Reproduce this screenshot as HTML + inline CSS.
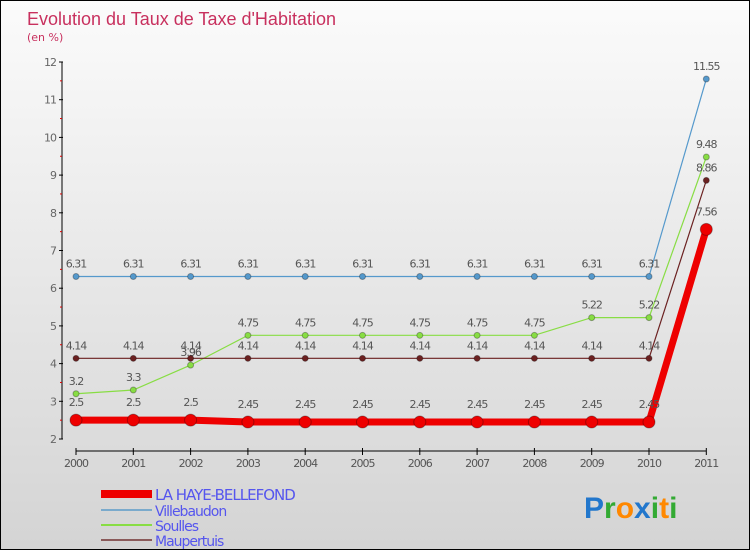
<!DOCTYPE html>
<html><head><meta charset="utf-8"><style>
body{margin:0}
#c{position:relative;width:748px;height:548px;border:1px solid #000;background:linear-gradient(#fbfbfb,#d4d4d4);overflow:hidden;font-family:"DejaVu Sans","Liberation Sans",sans-serif}
</style></head><body>
<div id="c">
<svg id="s" width="748" height="548"></svg>
</div>
<script>
const years=[2000,2001,2002,2003,2004,2005,2006,2007,2008,2009,2010,2011];
const laHaye=[2.5,2.5,2.5,2.45,2.45,2.45,2.45,2.45,2.45,2.45,2.45,7.56];
const villebaudon=[6.31,6.31,6.31,6.31,6.31,6.31,6.31,6.31,6.31,6.31,6.31,11.55];
const soulles=[3.2,3.3,3.96,4.75,4.75,4.75,4.75,4.75,4.75,5.22,5.22,9.48];
const maupertuis=[4.14,4.14,4.14,4.14,4.14,4.14,4.14,4.14,4.14,4.14,4.14,8.86];
const yTicks=[2,3,4,5,6,7,8,9,10,11,12];
const NS='http://www.w3.org/2000/svg';
const s=document.getElementById('s');
const X=i=>75+i*57.3, Y=v=>438-(v-2)*37.7;
function el(t,a,p){const e=document.createElementNS(NS,t);for(const k in a)e.setAttribute(k,a[k]);(p||s).appendChild(e);return e;}
function tx(x,y,str,a){const e=el('text',Object.assign({x:x,y:y},a));e.textContent=str;return e;}
let t=tx(26,24,"Evolution du Taux de Taxe d'Habitation",{fill:'#c8305e','font-size':18,'font-family':'Liberation Sans,sans-serif'});

t=tx(26,40,"(en %)",{fill:'#c8305e','font-size':11});

let a=el('line',{x1:61,y1:Y(12),x2:61,y2:Y(2),stroke:'#000','stroke-width':1});

yTicks.forEach(v=>{el('line',{x1:58,x2:62,y1:Y(v),y2:Y(v),stroke:'#000'});
 if(v<12)el('line',{x1:59,x2:61,y1:Y(v+0.5),y2:Y(v+0.5),stroke:'#d00'});
 const l=tx(55,Y(v)+4,v,{fill:'#666','font-size':11,'text-anchor':'end','letter-spacing':-1});
 });
a=el('line',{x1:X(0),x2:X(11),y1:450,y2:450,stroke:'#000'});

years.forEach((y,i)=>{el('line',{x1:X(i),x2:X(i),y1:447,y2:454,stroke:'#000'});
 const l=tx(X(i),466,y,{fill:'#555','font-size':11,'text-anchor':'middle','letter-spacing':-1});
 });
function series(d,color,w,r,name,lab){
 const g=el('g',{});
 el('polyline',{points:d.map((v,i)=>X(i)+','+Y(v)).join(' '),fill:'none',stroke:color,'stroke-width':w},g);
 d.forEach((v,i)=>{const c=el('circle',{cx:X(i),cy:Y(v),r:r,fill:color,stroke:'rgba(0,0,0,0.3)'},g);
  
  tx(X(i),Y(v)-lab,v,{fill:'#555','font-size':11,'text-anchor':'middle','letter-spacing':-1},g);});
}
series(villebaudon,'#5599cc',1.2,3,'villebaudon-series',9);
series(soulles,'#88dd44',1.2,3,'soulles-series',9);
series(maupertuis,'#6b2121',1.2,3,'maupertuis-series',9);
series(laHaye,'#ee0000',7,6,'la-haye-bellefond-series',14);
const leg=[['LA HAYE-BELLEFOND','#ee0000',8,493,15],['Villebaudon','#7aaacc',2,509,14],['Soulles','#88dd44',2,524,14],['Maupertuis','#8a5a5a',2,539,14]];
leg.forEach(l=>{const g=el('g',{});
 el('line',{x1:100,x2:151,y1:l[3],y2:l[3],stroke:l[1],'stroke-width':l[2]},g);
 tx(154,l[3]+6,l[0],{fill:'#5555ee','font-size':l[4],'letter-spacing':-1},g);});
const lg=el('text',{x:583,y:517,'font-size':30,'font-weight':'bold','font-family':'Liberation Sans,sans-serif'});

[['P','#2277cc'],['r','#33aa33'],['o','#ff8800'],['x','#2277cc'],['i','#33aa33'],['t','#ff8800'],['i','#33aa33']].forEach(p=>{const ts=el('tspan',{fill:p[1]},lg);ts.textContent=p[0];});
</script>
</body></html>
